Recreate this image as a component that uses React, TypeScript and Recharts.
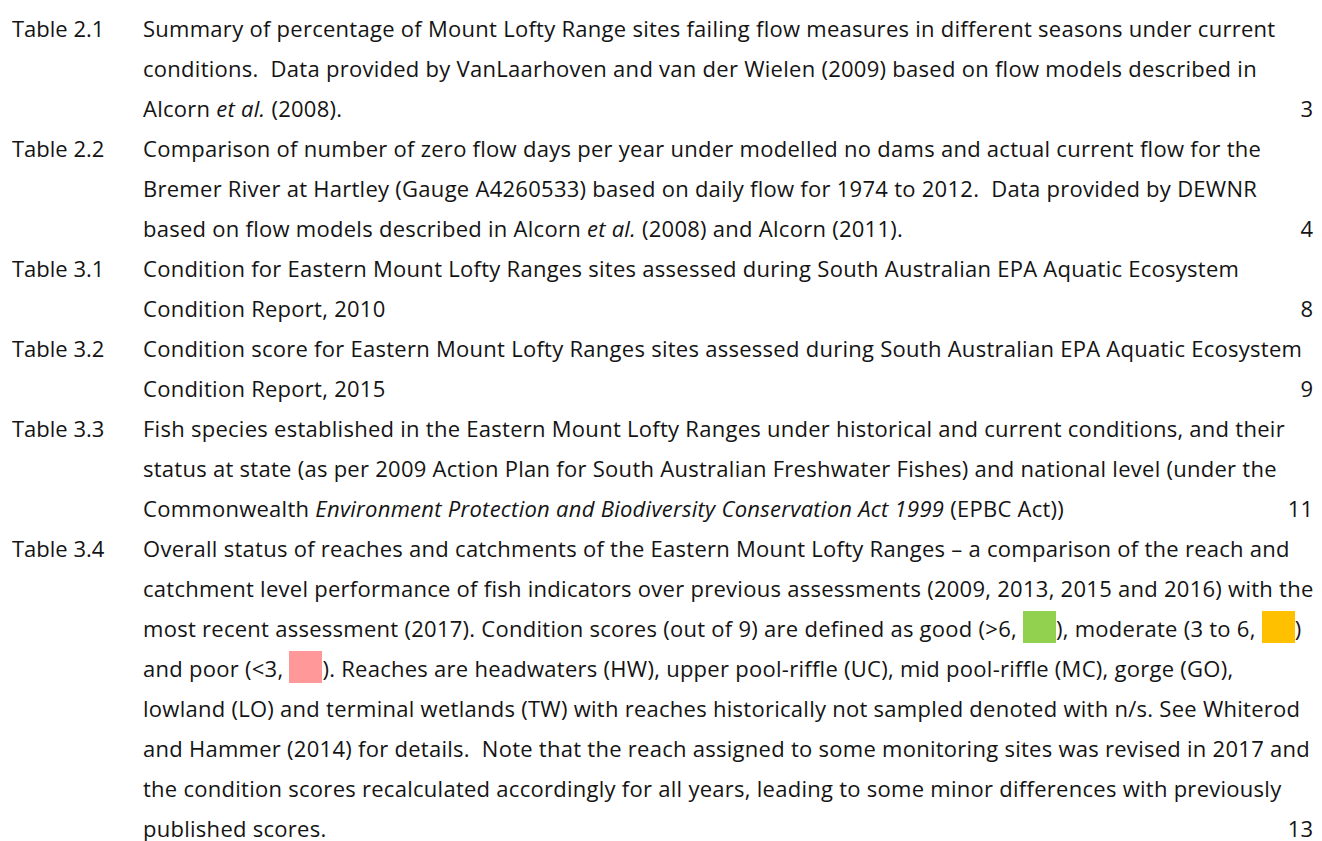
import { ScatterChart, Scatter, XAxis, YAxis } from "recharts";

// list of tables page: one entry per table, caption split into its printed lines
const tableLabels = ["Table 2.1", "Table 2.2", "Table 3.1", "Table 3.2", "Table 3.3", "Table 3.4"];
const pageNumbers = ["3", "4", "8", "9", "11", "13"];

// *...* = italic, {key} = colour swatch
const captionLines: string[][] = [
    [
        "Summary of percentage of Mount Lofty Range sites failing flow measures in different seasons under current",
        "conditions.  Data provided by VanLaarhoven and van der Wielen (2009) based on flow models described in",
        "Alcorn *et al.* (2008).",
    ],
    [
        "Comparison of number of zero flow days per year under modelled no dams and actual current flow for the",
        "Bremer River at Hartley (Gauge A4260533) based on daily flow for 1974 to 2012.  Data provided by DEWNR",
        "based on flow models described in Alcorn *et al.* (2008) and Alcorn (2011).",
    ],
    [
        "Condition for Eastern Mount Lofty Ranges sites assessed during South Australian EPA Aquatic Ecosystem",
        "Condition Report, 2010",
    ],
    [
        "Condition score for Eastern Mount Lofty Ranges sites assessed during South Australian EPA Aquatic Ecosystem",
        "Condition Report, 2015",
    ],
    [
        "Fish species established in the Eastern Mount Lofty Ranges under historical and current conditions, and their",
        "status at state (as per 2009 Action Plan for South Australian Freshwater Fishes) and national level (under the",
        "Commonwealth *Environment Protection and Biodiversity Conservation Act 1999* (EPBC Act))",
    ],
    [
        "Overall status of reaches and catchments of the Eastern Mount Lofty Ranges – a comparison of the reach and",
        "catchment level performance of fish indicators over previous assessments (2009, 2013, 2015 and 2016) with the",
        "most recent assessment (2017). Condition scores (out of 9) are defined as good (>6, {good}), moderate (3 to 6, {moderate})",
        "and poor (<3, {poor}). Reaches are headwaters (HW), upper pool-riffle (UC), mid pool-riffle (MC), gorge (GO),",
        "lowland (LO) and terminal wetlands (TW) with reaches historically not sampled denoted with n/s. See Whiterod",
        "and Hammer (2014) for details.  Note that the reach assigned to some monitoring sites was revised in 2017 and",
        "the condition scores recalculated accordingly for all years, leading to some minor differences with previously",
        "published scores.",
    ],
];

const swatchColours: Record<string, string> = {
    good: "#92d050",
    moderate: "#ffc000",
    poor: "#ff9999",
};

const W = 1322;
const H = 841;
const LINE_GAP = 40;
const FIRST_BASELINE = 36.7;
const FONT = "'Open Sans', sans-serif";
const INK = "#141414";

interface Row {
    x: number;
    y: number;
    label: string;
    text: string;
    page: string;
}

const rows: Row[] = [];
captionLines.forEach((lines, t) => {
    lines.forEach((text, j) => {
        rows.push({
            x: 0,
            y: rows.length,
            label: j === 0 ? tableLabels[t] : "",
            text,
            page: j === lines.length - 1 ? pageNumbers[t] : "",
        });
    });
});

function renderCaption(text: string) {
    return text
        .split(/(\*[^*]+\*|\{\w+\})/)
        .filter(Boolean)
        .map((s, k) => {
            if (s.startsWith("*")) return <i key={k}>{s.slice(1, -1)}</i>;
            if (s.startsWith("{"))
                return (
                    <span
                        key={k}
                        style={{
                            display: "inline-block",
                            width: 33,
                            height: 32,
                            background: swatchColours[s.slice(1, -1)],
                            verticalAlign: "-6px",
                        }}
                    />
                );
            return <span key={k}>{s}</span>;
        });
}

function LineShape(props: any) {
    const { cy, payload } = props;
    const row = payload as Row;
    return (
        <g>
            {row.label && (
                <text x={12} y={cy} fontFamily={FONT} fontSize={22} fill={INK}>
                    {row.label}
                </text>
            )}
            <foreignObject x={143} y={cy - 28.5} width={1178} height={40}>
                <div
                    style={{
                        fontFamily: FONT,
                        fontSize: 22,
                        letterSpacing: "0.27px",
                        lineHeight: "40px",
                        color: INK,
                        whiteSpace: "pre",
                    }}
                >
                    {renderCaption(row.text)}
                </div>
            </foreignObject>
            {row.page && (
                <text x={1313} y={cy} textAnchor="end" fontFamily={FONT} fontSize={22} fill={INK}>
                    {row.page}
                </text>
            )}
        </g>
    );
}

export default function App() {
    const yDomain = [-FIRST_BASELINE / LINE_GAP, (H - FIRST_BASELINE) / LINE_GAP];
    return (
        <div style={{ position: "absolute", left: 0, top: 0, width: W, height: H, background: "#fff" }}>
            <ScatterChart width={W} height={H} margin={{ top: 0, right: 0, bottom: 0, left: 0 }}>
                <XAxis type="number" dataKey="x" domain={[0, W]} hide />
                <YAxis type="number" dataKey="y" domain={yDomain} reversed hide allowDataOverflow />
                <Scatter data={rows} shape={<LineShape />} isAnimationActive={false} />
            </ScatterChart>
        </div>
    );
}
